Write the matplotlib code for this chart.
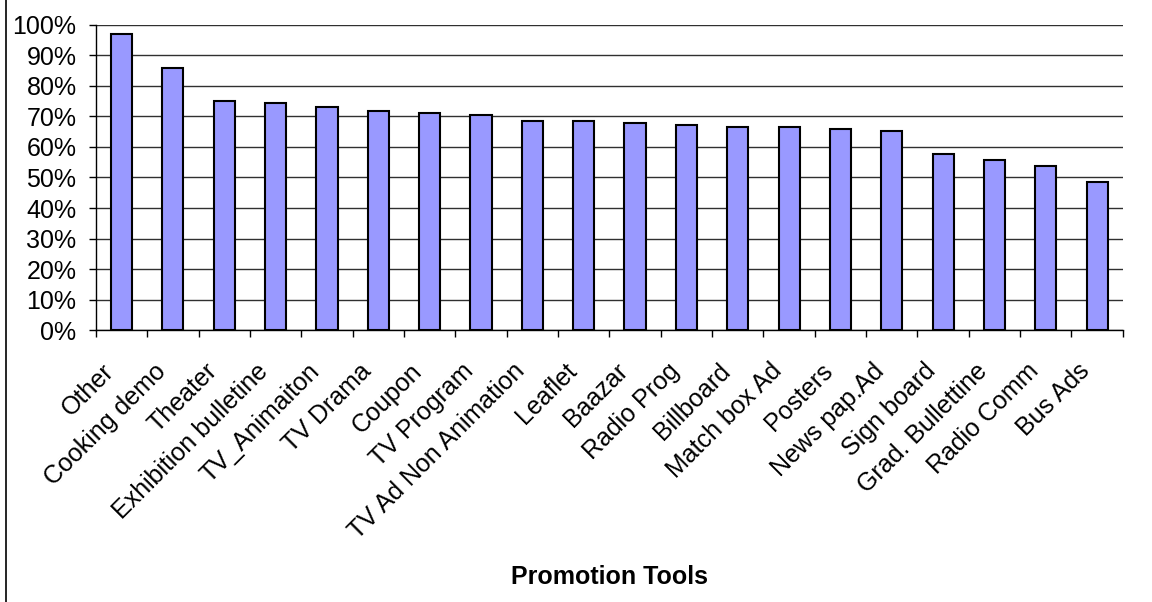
import matplotlib.pyplot as plt
from matplotlib.ticker import MultipleLocator, PercentFormatter, FixedLocator
from matplotlib.transforms import ScaledTranslation

plt.rcParams['font.family'] = ['Liberation Sans', 'DejaVu Sans']

# Promotion tools and share of respondents
tools = ['Other', 'Cooking demo', 'Theater', 'Exhibition bulletine', 'TV_Animaiton',
         'TV Drama', 'Coupon', 'TV Program', 'TV Ad Non Animation', 'Leaflet',
         'Baazar', 'Radio Prog', 'Billboard', 'Match box Ad', 'Posters',
         'News pap.Ad', 'Sign board', 'Grad. Bullettine', 'Radio Comm', 'Bus Ads']
shares = [96.9, 85.8, 75.0, 74.3, 73.1, 71.9, 71.1, 70.5, 68.5, 68.5,
          67.9, 67.2, 66.7, 66.7, 66.0, 65.4, 57.6, 55.7, 53.9, 48.6]

fig = plt.figure(figsize=(11.52, 6.02), dpi=100)
ax = fig.add_axes([0.0833, 0.4518, 0.8913, 0.5067])

x = range(len(tools))
ax.bar(x, shares, width=0.41, color='#9999FF', edgecolor='black', linewidth=1.5, zorder=3)

ax.set_ylim(0, 100)
ax.set_xlim(-0.5, len(tools) - 0.5)
ax.yaxis.set_major_locator(MultipleLocator(10))
ax.yaxis.set_major_formatter(PercentFormatter(decimals=0))
ax.grid(axis='y', color='#303030', linewidth=1.0, zorder=0)

ax.set_xticks(list(x))
ax.set_xticklabels(tools, rotation=45, ha='right', va='center', rotation_mode='anchor')
ax.xaxis.set_minor_locator(FixedLocator([i - 0.5 for i in range(len(tools) + 1)]))
ax.tick_params(axis='x', which='major', length=0, pad=27, labelsize=18)
ax.tick_params(axis='x', which='minor', length=5, width=1, direction='out')
ax.tick_params(axis='y', length=5, width=1, direction='out', pad=9, labelsize=18)

# nudge the slanted labels a little to the left, as in the original
shift = ScaledTranslation(-0.11, 0, fig.dpi_scale_trans)
for lbl in ax.get_xticklabels():
    lbl.set_transform(lbl.get_transform() + shift)

for side in ['top', 'right']:
    ax.spines[side].set_visible(False)
for side in ['left', 'bottom']:
    ax.spines[side].set_linewidth(1.0)

ax.set_xlabel('Promotion Tools', fontsize=18, fontweight='bold', labelpad=0)
ax.xaxis.set_label_coords(0.5, -0.77)

# frame line on the left edge of the chart area
fig.add_artist(plt.Line2D([0.0055, 0.0055], [0.0, 1.0], color='black', linewidth=1.2))

plt.savefig('out.png', dpi=100)
